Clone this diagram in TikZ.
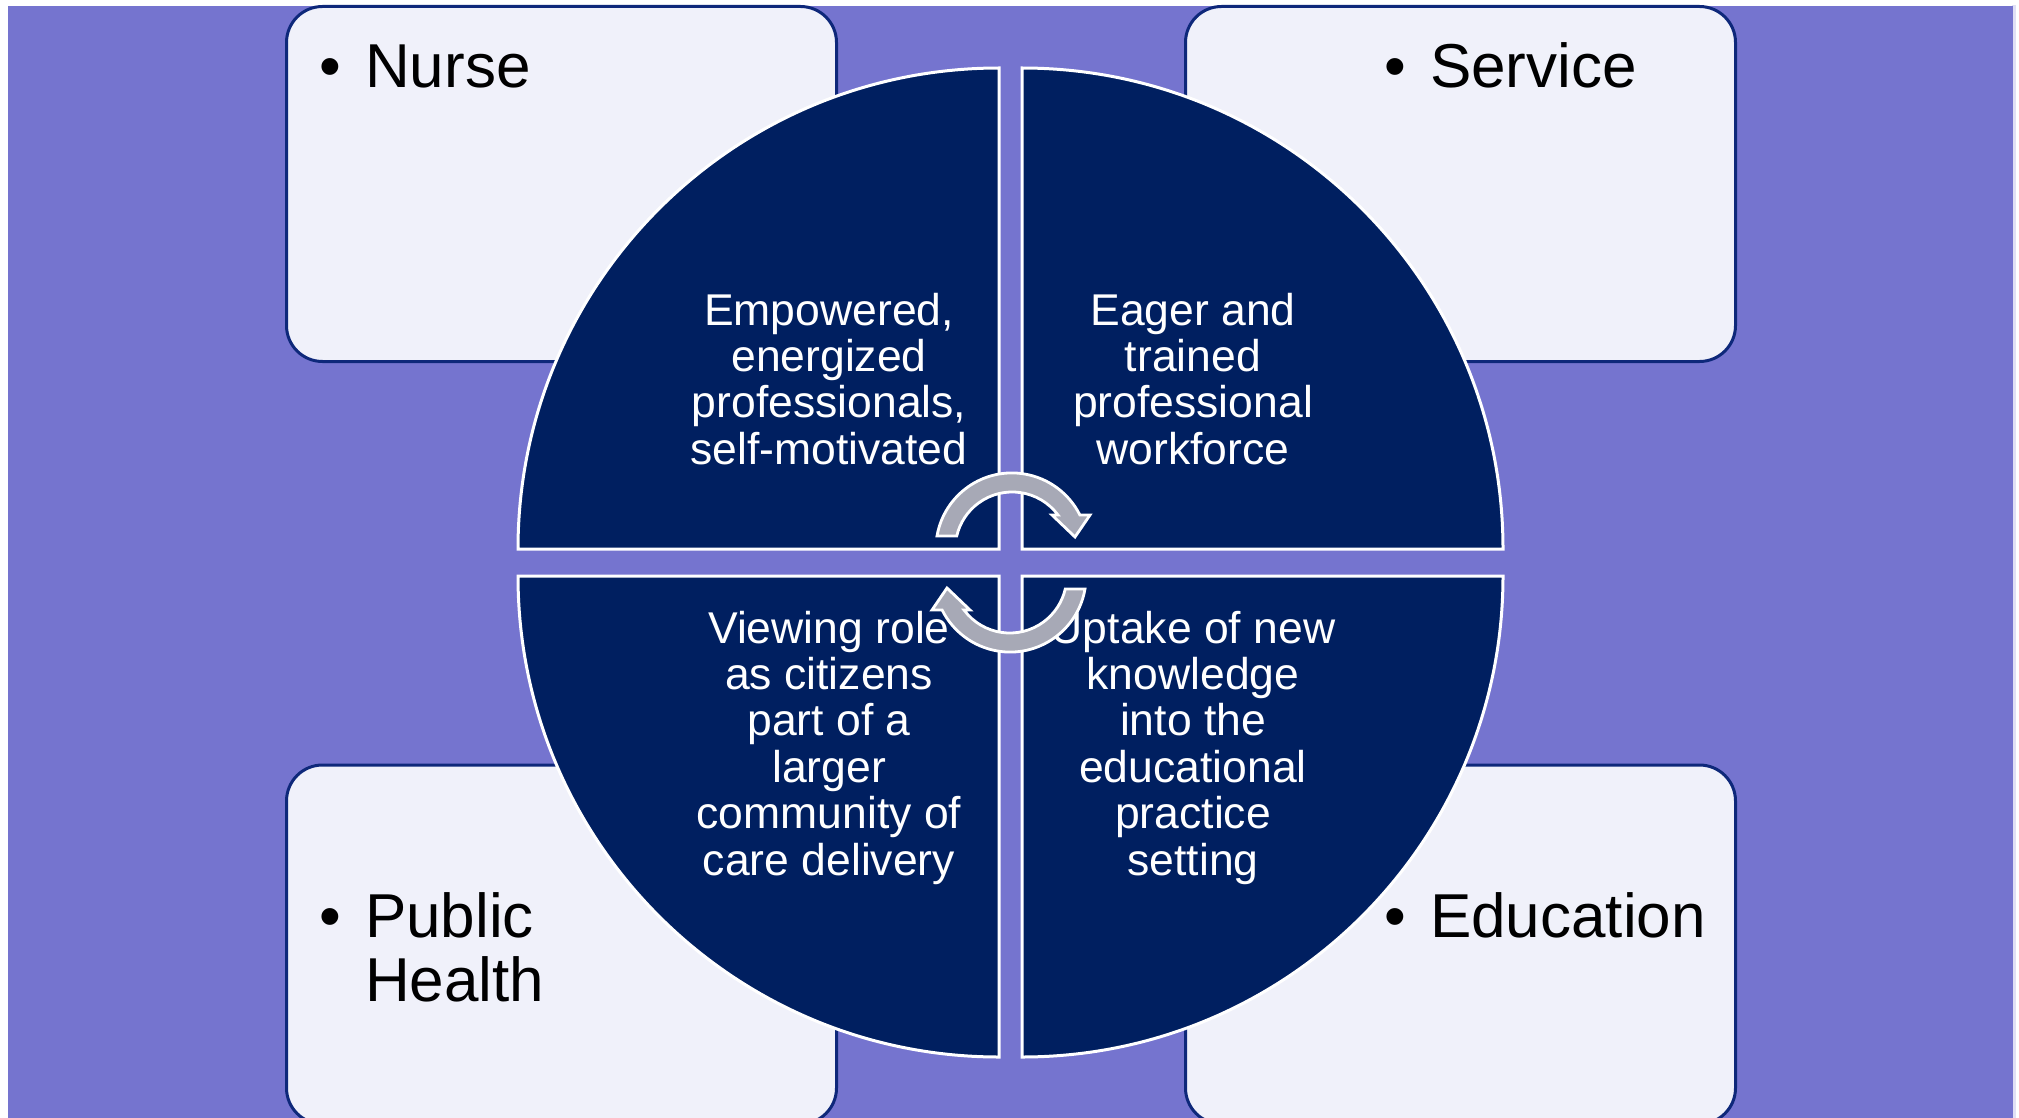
\documentclass[tikz,border=0pt]{standalone}
\usepackage{fontspec}
\setmainfont{Liberation Sans}
\definecolor{bgpurple}{RGB}{117,116,207}
\definecolor{boxfill}{RGB}{240,241,250}
\definecolor{boxline}{RGB}{14,40,122}
\definecolor{quadfill}{RGB}{0,31,96}
\definecolor{arrowfill}{RGB}{167,169,182}
\definecolor{edgelav}{RGB}{224,224,245}
\tikzset{
  boxstyle/.style={fill=boxfill, draw=boxline, line width=3pt, rounded corners=36pt},
  quad/.style={fill=quadfill, draw=white, line width=3pt},
  qtext/.style={text=white, inner sep=0pt, anchor=base, font=\fontsize{44.5}{46.4}\selectfont},
  btext/.style={text=black, inner sep=0pt, anchor=base west, font=\fontsize{62}{64}\selectfont},
  arrowshape/.style={fill=arrowfill, draw=white, line width=2.8pt, line join=miter},
}
\begin{document}
\begin{tikzpicture}[x=1pt,y=-1pt]
\useasboundingbox (0,0) rectangle (2019,1118);
\fill[white] (0,0) rectangle (2019,1118);
\fill[edgelav] (2012,5) rectangle (2016,1118);
\fill[bgpurple] (8,6) rectangle (2013,1118);

% outer boxes
\path[boxstyle] (286.5,6.5) rectangle (836.5,361.5);
\path[boxstyle] (1185.5,6.5) rectangle (1735.5,361.5);
\path[boxstyle] (286.5,765) rectangle (836.5,1124);
\path[boxstyle] (1185.5,765) rectangle (1735.5,1124);

% box labels
\node[btext] (nurse) at (319,88) {\makebox[46pt][l]{•}Nurse};
\node[btext] (service) at (1384,88) {\makebox[46pt][l]{•}Service};
\node[btext] (pubhealth) at (319,937) {\begin{tabular}[t]{@{}l@{}l@{}}\makebox[46pt][l]{•}&Public\\&Health\end{tabular}};
\node[btext] (education) at (1384,937) {\makebox[46pt][l]{•}Education};

% quadrants
\path[quad] (999,549) -- (518,549) arc[start angle=180, end angle=270, radius=481] -- cycle;
\path[quad] (1022,549) -- (1022,68) arc[start angle=270, end angle=360, radius=481] -- cycle;
\path[quad] (1022,576) -- (1503,576) arc[start angle=0, end angle=90, radius=481] -- cycle;
\path[quad] (999,576) -- (999,1057) arc[start angle=90, end angle=180, radius=481] -- cycle;

% quadrant texts
\node[qtext] (tl) at (829,325) {\begin{tabular}[t]{@{}c@{}}Empowered,\\energized\\professionals,\\self-motivated\end{tabular}};
\node[qtext] (tr) at (1193,325) {\begin{tabular}[t]{@{}c@{}}Eager and\\trained\\professional\\workforce\end{tabular}};
\node[qtext] (bl) at (829,643) {\begin{tabular}[t]{@{}c@{}}Viewing role\\as citizens\\part of a\\larger\\community of\\care delivery\end{tabular}};
\node[qtext] (br) at (1193,643) {\begin{tabular}[t]{@{}c@{}}Uptake of new\\knowledge\\into the\\educational\\practice\\setting\end{tabular}};

% circular arrows
\path[arrowshape] (937,536) arc[start angle=189.8, end angle=333.4, radius=76] -- (1090,515) -- (1075,537) -- (1052,515) -- (1058,515) arc[start angle=323.4, end angle=193.2, radius=57] -- cycle;
\begin{scope}[rotate around={180:(1011,562.5)}]
\path[arrowshape] (937,536) arc[start angle=189.8, end angle=333.4, radius=76] -- (1090,515) -- (1075,537) -- (1052,515) -- (1058,515) arc[start angle=323.4, end angle=193.2, radius=57] -- cycle;
\end{scope}
\end{tikzpicture}
\end{document}
